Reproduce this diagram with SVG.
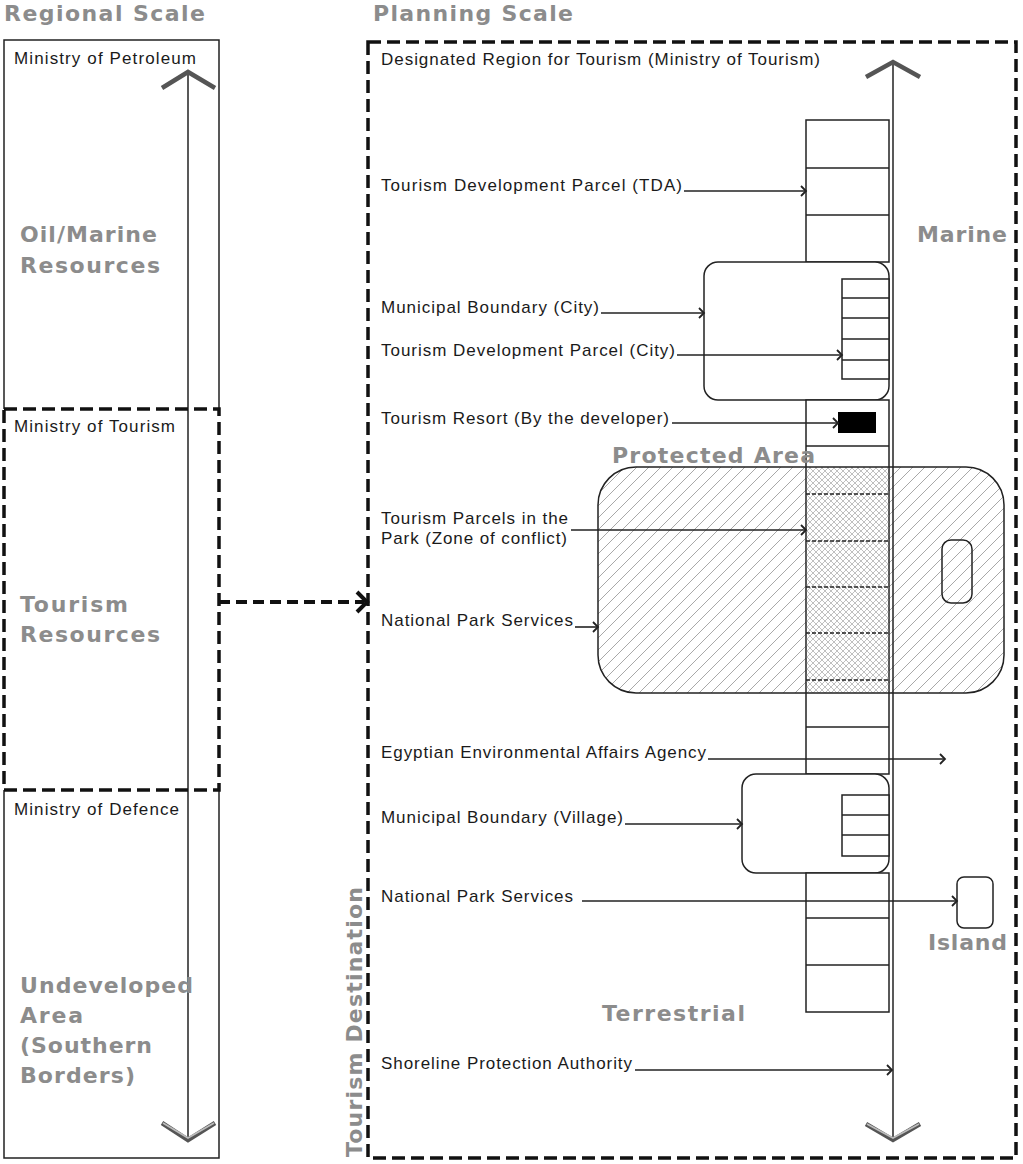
<svg xmlns="http://www.w3.org/2000/svg" width="1023" height="1164" viewBox="0 0 1023 1164">
<defs>
<style>
.lbl{font-family:"Liberation Sans",Arial,sans-serif;font-size:17px;fill:#1a1a1a}
.big{font-family:"DejaVu Sans",Verdana,sans-serif;font-weight:bold;font-size:22px;fill:#8c8c8c}
.ln{stroke:#222;stroke-width:1.5;fill:none}
.box{stroke:#222;stroke-width:1.5;fill:#fff}
.dash{stroke:#111;stroke-width:3.5;fill:none;stroke-dasharray:13 6}
.conn{stroke:#222;stroke-width:1.6;fill:none;marker-end:url(#ah)}
.head{stroke:#555;stroke-width:4.5;fill:none;stroke-linecap:butt;stroke-linejoin:miter}
.headin{stroke:#bbb;stroke-width:1.8;fill:none}
.pdash{stroke:#222;stroke-width:1.4;stroke-dasharray:4 2;fill:none}
</style>
<marker id="ah" markerUnits="userSpaceOnUse" markerWidth="12" markerHeight="12" refX="7" refY="6" orient="auto" overflow="visible"><path d="M2,1 L7,6 L2,11" fill="none" stroke="#222" stroke-width="1.8"/></marker>
<pattern id="hatch" patternUnits="userSpaceOnUse" width="12" height="12"><path d="M-3,3 L3,-3 M0,12 L12,0 M9,15 L15,9" stroke="#a8a8a8" stroke-width="1"/></pattern>
<pattern id="xhatch" patternUnits="userSpaceOnUse" width="6" height="6"><path d="M0,6 L6,0 M0,0 L6,6" stroke="#b0b0b0" stroke-width="0.8"/></pattern>
</defs>
<rect width="1023" height="1164" fill="#fff"/>

<g id="headers">
<text class="big" x="4" y="21" textLength="201" lengthAdjust="spacing">Regional Scale</text>
<text class="big" x="373" y="21" textLength="200" lengthAdjust="spacing">Planning Scale</text>
</g>

<g id="regional-scale">
<path class="ln" d="M4,409 V40 H219 V409 M4,790 V1158 H219 V790"/>
<line class="ln" x1="188" y1="72" x2="188" y2="1140"/>
<path class="head" d="M162,88 L188,72 L215,88"/>
<path class="head" d="M162,1123 L188,1140 L215,1123"/>
<path class="headin" d="M163,1123 L188,1138 L214,1123"/>
</g>

<g id="ministry-petroleum">
<text class="lbl" x="14" y="64" textLength="182" lengthAdjust="spacing">Ministry of Petroleum</text>
<text class="big" x="20" y="242" textLength="137" lengthAdjust="spacing">Oil/Marine</text>
<text class="big" x="20" y="273" textLength="140" lengthAdjust="spacing">Resources</text>
</g>

<g id="ministry-tourism">
<rect class="dash" x="4" y="409" width="215" height="381"/>
<text class="lbl" x="14" y="432" textLength="161" lengthAdjust="spacing">Ministry of Tourism</text>
<text class="big" x="20" y="612" textLength="108" lengthAdjust="spacing">Tourism</text>
<text class="big" x="20" y="642" textLength="140" lengthAdjust="spacing">Resources</text>
</g>

<g id="ministry-defence">
<text class="lbl" x="14" y="815" textLength="165" lengthAdjust="spacing">Ministry of Defence</text>
<text class="big" x="20" y="993" textLength="173" lengthAdjust="spacing">Undeveloped</text>
<text class="big" x="20" y="1023" textLength="63" lengthAdjust="spacing">Area</text>
<text class="big" x="20" y="1053" textLength="132" lengthAdjust="spacing">(Southern</text>
<text class="big" x="20" y="1083" textLength="115" lengthAdjust="spacing">Borders)</text>
</g>

<g id="planning-scale">
<rect class="dash" x="368" y="42" width="648" height="1116"/>
<text class="lbl" x="381" y="65" textLength="439" lengthAdjust="spacing">Designated Region for Tourism (Ministry of Tourism)</text>
<text class="big" transform="translate(362,1157) rotate(-90)" x="0" y="0" textLength="270" lengthAdjust="spacing">Tourism Destination</text>
<text class="big" x="917" y="242" textLength="90" lengthAdjust="spacing">Marine</text>
<text class="big" x="602" y="1021" textLength="143" lengthAdjust="spacing">Terrestrial</text>
</g>

<g id="protected-area">
<rect x="598" y="467" width="406" height="226" rx="38" fill="url(#hatch)" stroke="none"/>
</g>

<g id="strip-top">
<rect class="box" x="806" y="120" width="83" height="142"/>
<line class="ln" x1="806" y1="168" x2="889" y2="168"/>
<line class="ln" x1="806" y1="215" x2="889" y2="215"/>
</g>

<g id="city-boundary">
<rect class="box" x="704" y="262" width="185" height="138" rx="14"/>
<rect class="box" x="842" y="279" width="47" height="100"/>
<line class="ln" x1="842" y1="298" x2="889" y2="298"/>
<line class="ln" x1="842" y1="318" x2="889" y2="318"/>
<line class="ln" x1="842" y1="339" x2="889" y2="339"/>
<line class="ln" x1="842" y1="360" x2="889" y2="360"/>
</g>

<g id="strip-middle">
<rect class="box" x="806" y="400" width="83" height="374"/>
<rect x="838" y="412" width="38" height="21" fill="#000"/>
<line class="ln" x1="806" y1="446" x2="889" y2="446"/>
<rect x="806.8" y="467" width="81.5" height="226" fill="url(#xhatch)"/>
<line class="pdash" x1="806" y1="494" x2="889" y2="494"/>
<line class="pdash" x1="806" y1="541" x2="889" y2="541"/>
<line class="pdash" x1="806" y1="587" x2="889" y2="587"/>
<line class="pdash" x1="806" y1="633" x2="889" y2="633"/>
<line class="pdash" x1="806" y1="680" x2="889" y2="680"/>
<line class="ln" x1="806" y1="727" x2="889" y2="727"/>
</g>

<g id="protected-area-outline">
<rect class="ln" x="598" y="467" width="406" height="226" rx="38"/>
<rect class="ln" x="942" y="540" width="30" height="63" rx="9"/>
<text class="big" x="612" y="463" textLength="203" lengthAdjust="spacing">Protected Area</text>
</g>

<g id="village-boundary">
<rect class="box" x="742" y="774" width="147" height="99" rx="14"/>
<rect class="box" x="842" y="795" width="47" height="61"/>
<line class="ln" x1="842" y1="815" x2="889" y2="815"/>
<line class="ln" x1="842" y1="835" x2="889" y2="835"/>
</g>

<g id="strip-bottom">
<rect class="box" x="806" y="873" width="83" height="139"/>
<line class="ln" x1="806" y1="918" x2="889" y2="918"/>
<line class="ln" x1="806" y1="965" x2="889" y2="965"/>
</g>

<g id="island">
<rect class="ln" x="957" y="877" width="36" height="51" rx="7"/>
<text class="big" x="928" y="950" textLength="79" lengthAdjust="spacing">Island</text>
</g>

<g id="shoreline-axis">
<line class="ln" x1="893" y1="62" x2="893" y2="1140"/>
<path class="head" d="M866,77 L893,62 L920,77"/>
<path class="head" d="M866,1124 L893,1140 L920,1124"/>
<path class="headin" d="M867,1124 L893,1138 L919,1124"/>
</g>

<g id="labels">
<text class="lbl" x="381" y="191" textLength="301" lengthAdjust="spacing">Tourism Development Parcel (TDA)</text>
<text class="lbl" x="381" y="313" textLength="218" lengthAdjust="spacing">Municipal Boundary (City)</text>
<text class="lbl" x="381" y="356" textLength="294" lengthAdjust="spacing">Tourism Development Parcel (City)</text>
<text class="lbl" x="381" y="424" textLength="288" lengthAdjust="spacing">Tourism Resort (By the developer)</text>
<text class="lbl" x="381" y="524" textLength="187" lengthAdjust="spacing">Tourism Parcels in the</text>
<text class="lbl" x="381" y="544" textLength="186" lengthAdjust="spacing">Park (Zone of conflict)</text>
<text class="lbl" x="381" y="626" textLength="192" lengthAdjust="spacing">National Park Services</text>
<text class="lbl" x="381" y="758" textLength="325" lengthAdjust="spacing">Egyptian Environmental Affairs Agency</text>
<text class="lbl" x="381" y="823" textLength="242" lengthAdjust="spacing">Municipal Boundary (Village)</text>
<text class="lbl" x="381" y="902" textLength="192" lengthAdjust="spacing">National Park Services</text>
<text class="lbl" x="381" y="1069" textLength="251" lengthAdjust="spacing">Shoreline Protection Authority</text>
</g>

<g id="connectors">
<path class="conn" d="M684,191 H806"/>
<path class="conn" d="M601,313 H704"/>
<path class="conn" d="M677,355 H842"/>
<path class="conn" d="M672,423 H838"/>
<path class="conn" d="M571,530 H806"/>
<path class="conn" d="M575,627 H598"/>
<path class="conn" d="M708,759 H945"/>
<path class="conn" d="M625,824 H742"/>
<path class="conn" d="M582,901 H957"/>
<path class="conn" d="M635,1070 H892"/>
<path d="M219,602 H364" stroke="#111" stroke-width="4" fill="none" stroke-dasharray="11 6"/>
<path d="M357,592 L367,602 L357,612" stroke="#111" stroke-width="4" fill="none"/>
</g>
</svg>
